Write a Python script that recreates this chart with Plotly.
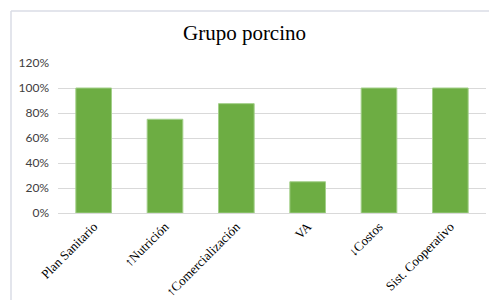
import plotly.graph_objects as go

categories = ["Plan Sanitario", "↑Nutrición", "↑Comercialización", "VA", "↓Costos", "Sist. Cooperativo"]
values = [1.00, 0.75, 0.875, 0.25, 1.00, 1.00]
y_ticks = [0, 0.2, 0.4, 0.6, 0.8, 1.0, 1.2]
y_tick_labels = ["0%", "20%", "40%", "60%", "80%", "100%", "120%"]

W, H = 489, 300
L, R, T, B = 58, 3, 63, 87
pw, ph = W - L - R, H - T - B

fig = go.Figure()
fig.add_trace(go.Bar(
    x=categories, y=values,
    marker=dict(color="#6dad43", line=dict(color="#a3cf8a", width=1)),
    width=0.5,
))

frame_color = "#dadce6"
fig.add_shape(type="line", xref="paper", yref="paper",
              x0=(11 - L) / pw, x1=(11 - L) / pw,
              y0=-(H - T - ph + 5) / ph, y1=1 + (T - 11) / ph,
              line=dict(color=frame_color, width=1.5))
fig.add_shape(type="line", xref="paper", yref="paper",
              x0=(11 - L) / pw, x1=1 + (R + 5) / pw,
              y0=1 + (T - 11) / ph, y1=1 + (T - 11) / ph,
              line=dict(color=frame_color, width=1.5))

fig.update_layout(
    width=W, height=H,
    margin=dict(l=L, r=R, t=T, b=B, autoexpand=False),
    paper_bgcolor="white", plot_bgcolor="white",
    showlegend=False,
    title=dict(text="Grupo porcino", x=0.5, xref="container", xanchor="center",
               y=1 - 33 / H, yref="container", yanchor="middle",
               font=dict(family="Liberation Serif", size=21, color="#000000")),
    xaxis=dict(tickangle=-45, showgrid=False, showline=True, linecolor="#d9d9d9",
               linewidth=1, ticks="", automargin=False,
               tickfont=dict(family="Liberation Serif", size=13, color="#000000")),
    yaxis=dict(range=[0, 1.2], tickvals=y_ticks, ticktext=y_tick_labels,
               showgrid=True, gridcolor="#d9d9d9", gridwidth=1, zeroline=False,
               ticks="", ticklabelstandoff=8, automargin=False,
               tickfont=dict(family="Lato", size=12, color="#404040")),
)

fig.write_html("out.html", config={"displayModeBar": False},
               post_script="document.body.style.margin='0';document.body.style.overflow='hidden';")
